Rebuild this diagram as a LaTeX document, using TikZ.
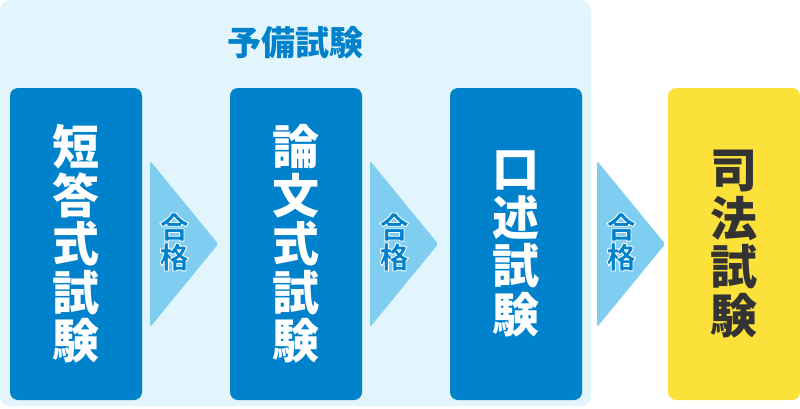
\documentclass[tikz,border=0pt]{standalone}
\usepackage{fontspec}
\newfontfamily\jpfont{Noto Sans CJK JP}
\usetikzlibrary{positioning}
\definecolor{panelblue}{HTML}{E2F4FC}
\definecolor{stageblue}{HTML}{0081CC}
\definecolor{arrowblue}{HTML}{80CDF2}
\definecolor{finalyellow}{HTML}{FCE13A}
\definecolor{darktext}{HTML}{333333}
% white outline round the pass labels
\newcommand{\haloon}{\special{pdf:literal direct 1 1 1 RG 0.9 w 1 j 2 Tr}}
\begin{document}
\begin{tikzpicture}
[x=1pt,y=-1pt,
  stagebox/.style={shape=rectangle,rounded corners=8pt,inner sep=0pt,
    minimum width=132pt,minimum height=312pt,align=center,
    font=\jpfont\bfseries\fontsize{47}{48.5}\selectfont},%
  passarrow/.style={fill=arrowblue,rounded corners=2pt},%
  passlabel/.style={inner sep=0pt,align=center,text=stageblue,
    font=\jpfont\bfseries\fontsize{29.5}{30}\selectfont}]
\useasboundingbox (0,0) rectangle (800,408);
% background panel
\fill[panelblue,rounded corners=10pt] (0,0) rectangle (591,406);
\node (title) at (295,43) [text=stageblue,font=\jpfont\bfseries\fontsize{34}{34}\selectfont] {予備試験};
% stages
\node (tanto) at (76,244) [stagebox,fill=stageblue,text=white] {短\\答\\式\\試\\験};
\node (ronbun) at (296,244) [stagebox,fill=stageblue,text=white] {論\\文\\式\\試\\験};
\node (kojutsu) at (516,244) [stagebox,fill=stageblue,text=white] {口\\述\\試\\験};
\node (shiho) at (734,244) [stagebox,fill=finalyellow,text=darktext] {司\\法\\試\\験};
% pass arrows
\foreach \from/\gap/\name in {tanto/8/pass1,ronbun/8/pass2,kojutsu/15/pass3}
{
  \fill[passarrow] ([xshift=\gap pt,yshift=83pt]\from.east)
    -- ([xshift=\gap pt+68pt]\from.east)
    -- ([xshift=\gap pt,yshift=-83pt]\from.east) -- cycle;
  \node (\name) at ([xshift=\gap pt+24pt,yshift=2pt]\from.east) [passlabel] {\haloon 合\\\haloon 格};
}
\end{tikzpicture}
\end{document}
